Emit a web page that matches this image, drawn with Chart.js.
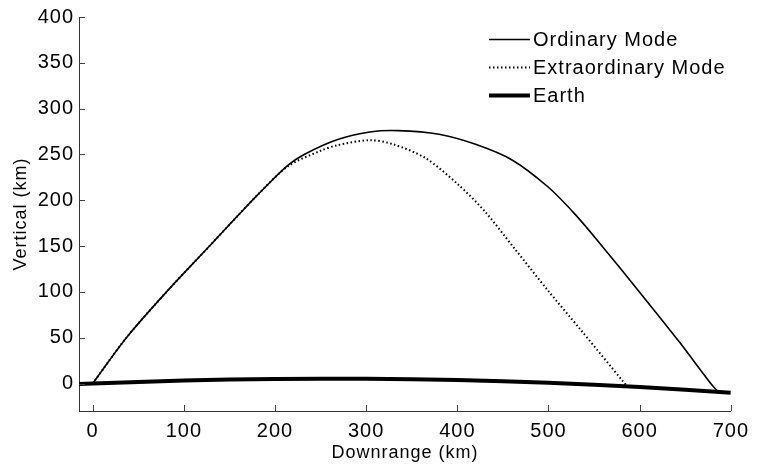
<!DOCTYPE html>
<html>
<head>
<meta charset="utf-8">
<script src="https://cdn.jsdelivr.net/npm/chart.js@4/dist/chart.umd.min.js"></script>
<style>
html,body{margin:0;padding:0;background:#fff;}
#wrap{width:757px;height:467px;}
</style>
</head>
<body>
<div id="wrap"><canvas id="c" width="757" height="467"></canvas></div>
<script>
// Data
const ordinaryX = [0, 37, 81, 130, 160, 182, 214, 232, 268, 304, 335, 380, 420, 460, 499, 528, 553, 607, 643, 678, 685];
const ordinaryY = [0, 50, 100, 152, 184, 207, 238, 250, 266, 274.5, 276, 272, 261, 244, 215, 186, 157, 91, 46, 0, -8];
const extraX = [0, 37, 81, 130, 160, 182, 214, 250, 268, 304, 330, 365, 400, 430, 463, 499, 535, 582, 586];
const extraY = [0, 50, 100, 152, 184, 207, 237, 254, 260, 265.5, 261, 246, 218, 188, 147, 102, 59, 2, -3];
const earthX = [-15, 0, 100, 200, 300, 400, 500, 600, 700];
const earthY = [-0.6, 0, 3.3, 5.0, 5.2, 3.7, 0.7, -3.8, -10];
const xTickValues = [0, 100, 200, 300, 400, 500, 600, 700];
const yTickValues = [0, 50, 100, 150, 200, 250, 300, 350, 400];
const seriesLabels = ['Ordinary Mode', 'Extraordinary Mode', 'Earth'];

const pts = (xs, ys) => xs.map((x, i) => ({x: x, y: ys[i]}));
const FONT = 'Liberation Sans, Arial, sans-serif';
const LS = '1px';

const spacingPlugin = {
  id: 'spacing',
  beforeLayout(chart){ chart.ctx.letterSpacing = LS; },
  beforeDraw(chart){ chart.ctx.letterSpacing = LS; }
};

const tickPlugin = {
  id: 'inTicks',
  afterDraw(chart){
    const ctx = chart.ctx, a = chart.chartArea;
    const xs = chart.scales.x, ys = chart.scales.y;
    ctx.save();
    ctx.strokeStyle = '#444';
    ctx.lineWidth = 1;
    ctx.beginPath();
    xTickValues.forEach(v => {
      const px = Math.round(xs.getPixelForValue(v)) + 0.5;
      ctx.moveTo(px, a.bottom); ctx.lineTo(px, a.bottom - 6);
    });
    yTickValues.forEach(v => {
      const py = Math.round(ys.getPixelForValue(v)) + 0.5;
      ctx.moveTo(a.left, py); ctx.lineTo(a.left + 6, py);
    });
    ctx.stroke();
    // legend
    ctx.letterSpacing = LS;
    ctx.font = '20px ' + FONT;
    ctx.fillStyle = '#000';
    ctx.textAlign = 'left';
    ctx.textBaseline = 'middle';
    const rows = [39, 67, 95];
    chart.data.datasets.forEach((ds, i) => {
      const y = rows[i] + 0.5;
      ctx.beginPath();
      ctx.strokeStyle = '#000';
      ctx.lineWidth = ds.borderWidth;
      ctx.setLineDash(ds.borderDash || []);
      ctx.moveTo(489, y); ctx.lineTo(530, y);
      ctx.stroke();
      ctx.setLineDash([]);
      ctx.fillText(ds.label, 533, rows[i] + 1);
    });
    ctx.restore();
  }
};

new Chart(document.getElementById('c'), {
  type: 'line',
  data: {
    datasets: [
      {label: seriesLabels[0], data: pts(ordinaryX, ordinaryY), borderColor: '#000', borderWidth: 1.6, pointRadius: 0, tension: 0.3, fill: false},
      {label: seriesLabels[1], data: pts(extraX, extraY), borderColor: '#000', borderWidth: 2, borderDash: [1.5, 2.5], pointRadius: 0, tension: 0.3, fill: false},
      {label: seriesLabels[2], data: pts(earthX, earthY), borderColor: '#000', borderWidth: 4, pointRadius: 0, tension: 0.3, fill: false}
    ]
  },
  options: {
    responsive: false,
    animation: false,
    layout: {padding: {top: 16, right: 18, left: 0, bottom: 0}},
    plugins: {legend: {display: false}, tooltip: {enabled: false}},
    scales: {
      x: {
        type: 'linear', min: -15, max: 700,
        afterBuildTicks: s => { s.ticks = xTickValues.map(v => ({value: v})); },
        afterFit: s => { s.height = 56; },
        grid: {display: false, drawTicks: false},
        border: {display: true, color: '#333', width: 1},
        ticks: {color: '#000', font: {size: 20, family: FONT}, padding: 8, maxRotation: 0},
        title: {display: true, text: 'Downrange (km)', color: '#000', font: {size: 18, family: FONT}, padding: {top: 0, bottom: 3}}
      },
      y: {
        type: 'linear', min: -30, max: 400,
        afterBuildTicks: s => { s.ticks = yTickValues.map(v => ({value: v})); },
        afterFit: s => { s.width = 79; },
        grid: {display: false, drawTicks: false},
        border: {display: true, color: '#333', width: 1},
        ticks: {color: '#000', font: {size: 20, family: FONT}, padding: 5},
        title: {display: true, text: 'Vertical (km)', color: '#000', font: {size: 18, family: FONT}, padding: {top: 10, bottom: 0}}
      }
    }
  },
  plugins: [spacingPlugin, tickPlugin]
});
</script>
</body>
</html>
